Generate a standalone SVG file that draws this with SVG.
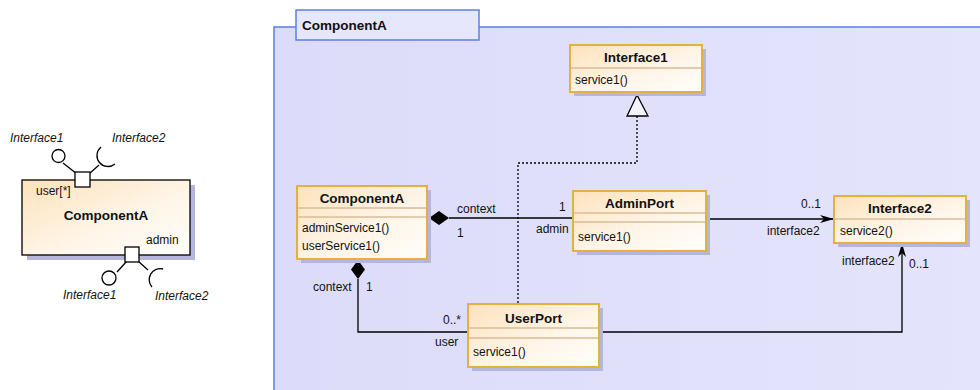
<svg xmlns="http://www.w3.org/2000/svg" width="980" height="390" viewBox="0 0 980 390">
<defs>
<linearGradient id="g" x1="0" y1="0" x2="1" y2="1"><stop offset="0" stop-color="#fde2bc"/><stop offset="0.6" stop-color="#fff6ea"/><stop offset="1" stop-color="#fffdfa"/></linearGradient>
<linearGradient id="gf" x1="0" y1="0" x2="1" y2="0"><stop offset="0" stop-color="#dcdcfa"/><stop offset="1" stop-color="#e4e4fc"/></linearGradient>
<marker id="arr" viewBox="0 0 14 8" refX="14" refY="4" markerWidth="14" markerHeight="8" markerUnits="userSpaceOnUse" orient="auto"><path d="M0,0 L14,4 L0,8 L4,4 z" fill="#000"/></marker>
</defs>
<style>
text{font-family:"Liberation Sans",Arial,sans-serif;font-size:12px;fill:#111}
.b{font-weight:bold;font-size:13.5px}
.i{font-style:italic}
.box{fill:url(#g);stroke:#e6b040;stroke-width:2}
.sh{fill:#b4b6dc}
.sep{stroke:#d8bc98;stroke-width:1.5}
.ln{stroke:#000;stroke-width:1.3;fill:none}
.dot{stroke:#000;stroke-width:1.3;fill:none;stroke-dasharray:2,2}
.port{fill:#fff;stroke:#000;stroke-width:1.3}
</style>
<rect width="980" height="390" fill="#fff"/>

<g id="leftComponent">
<rect class="sh" x="27" y="185" width="168" height="75"/>
<rect x="22" y="180" width="168" height="75" fill="url(#g)" stroke="#000" stroke-width="1.3"/>
<text x="36" y="195">user[*]</text>
<text x="106" y="220" class="b" text-anchor="middle">ComponentA</text>
<text x="146" y="244">admin</text>
<line class="ln" x1="63" y1="163" x2="77" y2="174"/>
<circle class="port" cx="58.5" cy="156" r="6.5"/>
<line class="ln" x1="89" y1="174" x2="99" y2="165"/>
<path class="ln" d="M101,147 A11,11 0 0,0 115,164"/>
<rect class="port" x="75" y="172" width="15" height="15"/>
<text x="10" y="142" class="i">Interface1</text>
<text x="112" y="142" class="i">Interface2</text>
<line class="ln" x1="117" y1="272" x2="127" y2="261"/>
<circle class="port" cx="109" cy="278" r="7"/>
<line class="ln" x1="138" y1="261" x2="148" y2="270"/>
<path class="ln" d="M163,269 A11,11 0 0,0 152,287"/>
<rect class="port" x="125" y="247" width="14" height="15"/>
<text x="63" y="299" class="i">Interface1</text>
<text x="155" y="300" class="i">Interface2</text>
</g>

<g id="frame">
<rect x="274" y="27" width="720" height="380" fill="url(#gf)" stroke="#5a80e6" stroke-width="1.5"/>
<rect x="296" y="10" width="183" height="30" fill="#e6e6fc" stroke="#5a80e6" stroke-width="1.5"/>
<text x="302" y="30" class="b">ComponentA</text>
</g>

<g id="connectors">
<path class="dot" d="M637,116 V163 H518 V303"/>
<polygon points="637,95 627,116 648,116" fill="#f4f4ff" stroke="#000" stroke-width="1.3"/>
<line class="ln" x1="449" y1="218" x2="573" y2="218"/>
<polygon points="429,218 439,211 449,218 439,225" fill="#000"/>
<path class="ln" d="M358,279 V332 H468"/>
<polygon points="358,260 365,269.5 358,279 351,269.5" fill="#000"/>
<line class="ln" x1="706" y1="219" x2="834" y2="219" marker-end="url(#arr)"/>
<path class="ln" d="M599,332 H902 V243" marker-end="url(#arr)"/>
<text x="457" y="213">context</text>
<text x="457" y="237">1</text>
<text x="559" y="211">1</text>
<text x="536" y="233">admin</text>
<text x="313" y="291">context</text>
<text x="366" y="291">1</text>
<text x="443" y="324">0..*</text>
<text x="435" y="346">user</text>
<text x="801" y="208">0..1</text>
<text x="767" y="235">interface2</text>
<text x="842" y="265">interface2</text>
<text x="909" y="268">0..1</text>
</g>

<g id="Interface1">
<rect class="sh" x="574" y="49" width="132" height="47"/>
<rect class="box" x="570" y="45" width="132" height="47"/>
<line class="sep" x1="571" y1="68" x2="701" y2="68"/>
<text x="636" y="62" class="b" text-anchor="middle">Interface1</text>
<text x="575" y="84">service1()</text>
</g>

<g id="ComponentAClass">
<rect class="sh" x="301" y="190" width="130" height="73"/>
<rect class="box" x="297" y="186" width="130" height="73"/>
<line class="sep" x1="298" y1="208" x2="426" y2="208"/>
<line class="sep" x1="298" y1="217" x2="426" y2="217"/>
<text x="362" y="203" class="b" text-anchor="middle">ComponentA</text>
<text x="302" y="232">adminService1()</text>
<text x="302" y="250">userService1()</text>
</g>

<g id="AdminPort">
<rect class="sh" x="577" y="195" width="133" height="60"/>
<rect class="box" x="573" y="191" width="133" height="60"/>
<line class="sep" x1="574" y1="213" x2="705" y2="213"/>
<line class="sep" x1="574" y1="222" x2="705" y2="222"/>
<text x="639.5" y="208" class="b" text-anchor="middle">AdminPort</text>
<text x="578" y="241">service1()</text>
</g>

<g id="Interface2">
<rect class="sh" x="838" y="200" width="132" height="47"/>
<rect class="box" x="834" y="196" width="132" height="47"/>
<line class="sep" x1="835" y1="219" x2="965" y2="219"/>
<text x="900" y="213" class="b" text-anchor="middle">Interface2</text>
<text x="840" y="235">service2()</text>
</g>

<g id="UserPort">
<rect class="sh" x="472" y="308" width="131" height="63"/>
<rect class="box" x="468" y="304" width="131" height="63"/>
<line class="sep" x1="469" y1="328" x2="598" y2="328"/>
<line class="sep" x1="469" y1="338" x2="598" y2="338"/>
<text x="533.5" y="323" class="b" text-anchor="middle">UserPort</text>
<text x="473" y="356">service1()</text>
</g>
</svg>
